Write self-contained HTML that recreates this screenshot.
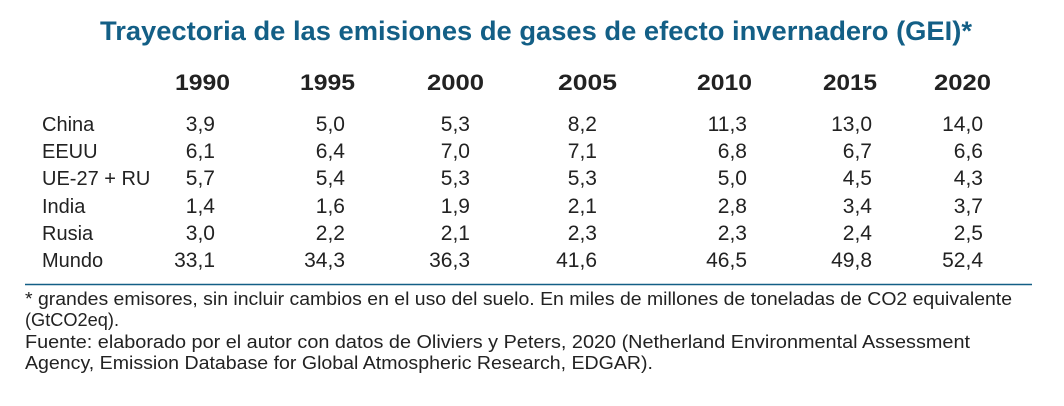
<!DOCTYPE html>
<html><head><meta charset="utf-8"><style>
html,body{margin:0;padding:0;background:#fff;}
svg{display:block;}
text{font-family:"Liberation Sans",sans-serif;}
</style></head><body>
<svg width="1064" height="406" viewBox="0 0 1064 406" xmlns="http://www.w3.org/2000/svg">
<text x="100" y="40" font-size="27" font-weight="bold" fill="#135f86" textLength="872" lengthAdjust="spacingAndGlyphs">Trayectoria de las emisiones de gases de efecto invernadero (GEI)*</text>
<g font-size="22" font-weight="bold" fill="#222">
<text x="175" y="90" textLength="55" lengthAdjust="spacingAndGlyphs">1990</text>
<text x="300" y="90" textLength="55" lengthAdjust="spacingAndGlyphs">1995</text>
<text x="427" y="90" textLength="57" lengthAdjust="spacingAndGlyphs">2000</text>
<text x="558" y="90" textLength="59" lengthAdjust="spacingAndGlyphs">2005</text>
<text x="697" y="90" textLength="55" lengthAdjust="spacingAndGlyphs">2010</text>
<text x="823" y="90" textLength="54" lengthAdjust="spacingAndGlyphs">2015</text>
<text x="934" y="90" textLength="57" lengthAdjust="spacingAndGlyphs">2020</text>
</g>
<g font-size="20" fill="#222">
<text x="42" y="131">China</text>
<text x="42" y="158">EEUU</text>
<text x="42" y="185">UE-27 + RU</text>
<text x="42" y="213">India</text>
<text x="42" y="240">Rusia</text>
<text x="42" y="267">Mundo</text>
</g>
<g font-size="21" fill="#222" text-anchor="end">
<g transform="translate(215,0)"><text y="131">3,9</text><text y="158">6,1</text><text y="185">5,7</text><text y="213">1,4</text><text y="240">3,0</text><text y="267">33,1</text></g>
<g transform="translate(345,0)"><text y="131">5,0</text><text y="158">6,4</text><text y="185">5,4</text><text y="213">1,6</text><text y="240">2,2</text><text y="267">34,3</text></g>
<g transform="translate(470,0)"><text y="131">5,3</text><text y="158">7,0</text><text y="185">5,3</text><text y="213">1,9</text><text y="240">2,1</text><text y="267">36,3</text></g>
<g transform="translate(597,0)"><text y="131">8,2</text><text y="158">7,1</text><text y="185">5,3</text><text y="213">2,1</text><text y="240">2,3</text><text y="267">41,6</text></g>
<g transform="translate(747,0)"><text y="131">11,3</text><text y="158">6,8</text><text y="185">5,0</text><text y="213">2,8</text><text y="240">2,3</text><text y="267">46,5</text></g>
<g transform="translate(872,0)"><text y="131">13,0</text><text y="158">6,7</text><text y="185">4,5</text><text y="213">3,4</text><text y="240">2,4</text><text y="267">49,8</text></g>
<g transform="translate(983,0)"><text y="131">14,0</text><text y="158">6,6</text><text y="185">4,3</text><text y="213">3,7</text><text y="240">2,5</text><text y="267">52,4</text></g>
</g>
<line x1="25" y1="284.5" x2="1032" y2="284.5" stroke="#135f86" stroke-width="1.5"/>
<g font-size="18.5" fill="#222">
<text x="25" y="305" textLength="987" lengthAdjust="spacingAndGlyphs">* grandes emisores, sin incluir cambios en el uso del suelo. En miles de millones de toneladas de CO2 equivalente</text>
<text x="25" y="326" textLength="94" lengthAdjust="spacingAndGlyphs">(GtCO2eq).</text>
<text x="25" y="348" textLength="945" lengthAdjust="spacingAndGlyphs">Fuente: elaborado por el autor con datos de Oliviers y Peters, 2020 (Netherland Environmental Assessment</text>
<text x="25" y="369" textLength="628" lengthAdjust="spacingAndGlyphs">Agency, Emission Database for Global Atmospheric Research, EDGAR).</text>
</g>
</svg>
</body></html>
